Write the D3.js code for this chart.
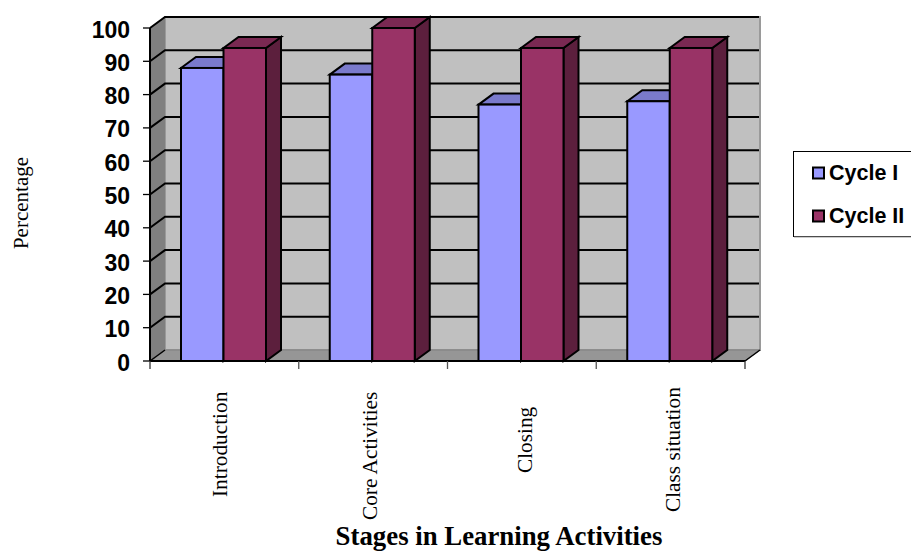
<!DOCTYPE html>
<html>
<head>
<meta charset="utf-8">
<script src="https://cdnjs.cloudflare.com/ajax/libs/d3/7.8.5/d3.min.js"></script>
<style>
html,body{margin:0;padding:0;background:#fff;overflow:hidden}
svg{display:block}
</style>
</head>
<body>
<svg id="chart" width="911" height="551"></svg>
<script>
const categories = ["Introduction", "Core Activities", "Closing", "Class situation"];
const seriesNames = ["Cycle I", "Cycle II"];
const cycleOne = [88, 86, 77, 78];
const cycleTwo = [94, 100, 94, 94];
const yTicks = [0, 10, 20, 30, 40, 50, 60, 70, 80, 90, 100];

const faceColors = [
  {front: "#9999ff", top: "#7a7acc", side: "#5c5c99"},
  {front: "#993366", top: "#7a2952", side: "#5c1f3d"}
];

const plotLeft = 150, plotRight = 745, plotBottom = 361, plotTop = 28;
const depthX = 15, depthY = -11;

// Hand placement of the rotated category labels (baseline x, starting y)
const labelBaselineX = [227, 377, 532, 680];
const labelStartY = [497, 520, 473, 512];

const svg = d3.select("#chart");
const x = d3.scaleBand().domain(d3.range(categories.length)).range([plotLeft, plotRight]);
const inner = d3.scaleBand().domain(d3.range(seriesNames.length))
  .range([31, 116]);
const y = d3.scaleLinear().domain([0, 100]).range([plotBottom, plotTop]);
const poly = pts => pts.map(p => p.join(",")).join(" ");
const ink = "#000";

// Walls of the 3D box: back, left side and floor
svg.append("polygon").attr("fill", "#c0c0c0").attr("stroke", "#9a9a9a").attr("stroke-width", 2)
  .attr("points", poly([[plotLeft + depthX, plotTop + depthY], [plotRight + depthX, plotTop + depthY],
                        [plotRight + depthX, plotBottom + depthY], [plotLeft + depthX, plotBottom + depthY]]));
svg.append("polygon").attr("fill", "#808080")
  .attr("points", poly([[plotLeft, plotTop], [plotLeft + depthX, plotTop + depthY],
                        [plotLeft + depthX, plotBottom + depthY], [plotLeft, plotBottom]]));
svg.append("polygon").attr("fill", "#969696").attr("stroke", "#808080")
  .attr("points", poly([[plotLeft, plotBottom], [plotLeft + depthX, plotBottom + depthY],
                        [plotRight + depthX, plotBottom + depthY], [plotRight, plotBottom]]));

// Gridlines run along the side wall and across the back wall
const grid = svg.append("g").attr("fill", "none").attr("stroke", ink).attr("stroke-width", 2);
yTicks.filter(d => d > 0).forEach(d => {
  grid.append("polyline").attr("points", poly([[plotLeft, y(d)], [plotLeft + depthX, y(d) + depthY],
                                               [plotRight + depthX - 1, y(d) + depthY]]));
});

// Axis lines and tick marks
const axis = svg.append("g").attr("stroke", ink).attr("fill", "none");
axis.append("line").attr("x1", plotLeft).attr("x2", plotLeft).attr("y1", plotTop).attr("y2", plotBottom)
  .attr("stroke-width", 2);
axis.append("line").attr("x1", plotLeft).attr("x2", plotRight).attr("y1", plotBottom).attr("y2", plotBottom)
  .attr("stroke-width", 2);
axis.append("line").attr("x1", plotLeft).attr("y1", plotBottom)
  .attr("x2", plotLeft + depthX).attr("y2", plotBottom + depthY).attr("stroke-width", 1.5);
axis.append("line").attr("x1", plotRight).attr("y1", plotBottom)
  .attr("x2", plotRight + depthX).attr("y2", plotBottom + depthY).attr("stroke-width", 1.5);
yTicks.forEach(d => axis.append("line").attr("x1", plotLeft - 7).attr("x2", plotLeft)
  .attr("y1", y(d)).attr("y2", y(d)).attr("stroke-width", 1.3));
d3.range(categories.length + 1).forEach(i => {
  const px = i < categories.length ? x(i) : plotRight;
  axis.append("line").attr("x1", px).attr("x2", px).attr("y1", plotBottom).attr("y2", plotBottom + 8)
    .attr("stroke", i === 0 || i === categories.length ? "#333" : "#555").attr("stroke-width", 1.3);
});

svg.append("g").selectAll("text").data(yTicks).join("text")
  .attr("x", 130).attr("y", d => y(d) + 9.5).attr("text-anchor", "end")
  .attr("font-family", "'Liberation Sans', Arial, sans-serif")
  .attr("font-weight", "bold").attr("font-size", 23).attr("fill", ink).text(d => d);

// Bars, drawn group by group so each block overlaps the one on its left
const bars = svg.append("g").attr("stroke", ink).attr("stroke-width", 2).attr("stroke-linejoin", "miter");
categories.forEach((c, i) => {
  [cycleOne[i], cycleTwo[i]].forEach((v, s) => {
    const x0 = x(i) + inner(s), x1 = x0 + inner.bandwidth();
    const yv = y(v), g = bars.append("g"), col = faceColors[s];
    g.append("polygon").attr("fill", col.side).attr("points", poly([
      [x1, yv], [x1 + depthX, yv + depthY], [x1 + depthX, plotBottom + depthY], [x1, plotBottom]]));
    g.append("polygon").attr("fill", col.top).attr("points", poly([
      [x0, yv], [x0 + depthX, yv + depthY], [x1 + depthX, yv + depthY], [x1, yv]]));
    g.append("rect").attr("fill", col.front).attr("x", x0).attr("y", yv)
      .attr("width", x1 - x0).attr("height", plotBottom - yv);
  });
});

// Rotated category labels
svg.append("g").selectAll("text").data(categories).join("text")
  .attr("transform", (d, i) => `translate(${labelBaselineX[i]},${labelStartY[i]}) rotate(-90)`)
  .attr("font-family", "'Liberation Serif', 'Times New Roman', serif")
  .attr("font-size", 21.3).attr("fill", ink).text(d => d);

// Axis titles
svg.append("text").attr("transform", "translate(28,203) rotate(-90)")
  .attr("text-anchor", "middle")
  .attr("font-family", "'Liberation Serif', 'Times New Roman', serif")
  .attr("font-size", 21).attr("fill", ink).text("Percentage");
svg.append("text").attr("x", 499).attr("y", 545).attr("text-anchor", "middle")
  .attr("font-family", "'Liberation Serif', 'Times New Roman', serif")
  .attr("font-weight", "bold").attr("font-size", 26.8).attr("fill", ink)
  .text("Stages in Learning Activities");

// Legend box, running off the right edge of the page
svg.append("rect").attr("x", 793.5).attr("y", 151.5).attr("width", 130).attr("height", 85)
  .attr("fill", "#fff").attr("stroke", ink).attr("stroke-width", 1);
svg.append("line").attr("x1", 794).attr("x2", 911).attr("y1", 237).attr("y2", 237)
  .attr("stroke", "#999").attr("stroke-width", 1);
const legendY = d3.scalePoint().domain(seriesNames).range([173, 216]);
const legend = svg.append("g").selectAll("g").data(seriesNames).join("g")
  .attr("transform", d => `translate(0,${legendY(d)})`);
legend.append("rect").attr("x", 813).attr("y", -5.5).attr("width", 11).attr("height", 11)
  .attr("fill", (d, i) => faceColors[i].front).attr("stroke", ink).attr("stroke-width", 2);
legend.append("text").attr("x", 829).attr("y", 7)
  .attr("font-family", "'Liberation Sans', Arial, sans-serif")
  .attr("font-weight", "bold").attr("font-size", 21.5).attr("fill", ink).text(d => d);
</script>
</body>
</html>
